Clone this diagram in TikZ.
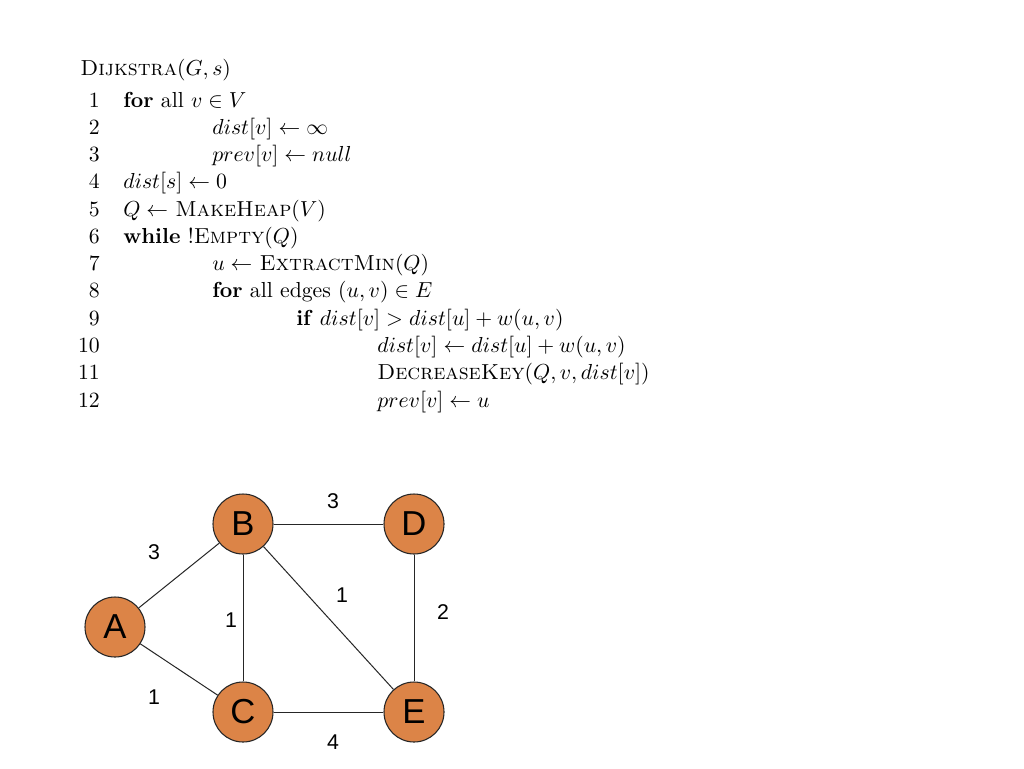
\documentclass[tikz,border=0pt]{standalone}
\usepackage{fontspec}
\newfontfamily\gfont{Liberation Sans}
\definecolor{vfill}{HTML}{DC8447}
\newcommand{\cl}[1]{\scalebox{1.63}{#1}}
\tikzset{
  code/.style={anchor=base west, inner sep=0pt},
  num/.style={anchor=base east, inner sep=0pt},
  vtx/.style={circle, draw=black!85, line width=0.8pt, fill=vfill, minimum size=45pt, inner sep=0pt, font=\gfont\fontsize{26}{26}\selectfont},
  wt/.style={inner sep=0pt, font=\gfont\fontsize{16}{16}\selectfont},
  edge/.style={draw=black!85, line width=0.75pt}
}
\begin{document}
\begin{tikzpicture}[x=0.75pt, y=-0.75pt]
\useasboundingbox (0,0) rectangle (1024,768);
\fill[white] (0,0) rectangle (1024,768);
% algorithm
\node[code] (t0) at (80,75) {\cl{\textsc{Dijkstra}$(G,s)$}};
\node[num] (n1) at (100,107) {\cl{1}};
\node[code] (l1) at (123,107) {\cl{\textbf{for} all $v\in V$}};
\node[num] (n2) at (100,134.3) {\cl{2}};
\node[code] (l2) at (212,134.3) {\cl{$dist[v]\leftarrow\infty$}};
\node[num] (n3) at (100,161.5) {\cl{3}};
\node[code] (l3) at (212,161.5) {\cl{$prev[v]\leftarrow null$}};
\node[num] (n4) at (100,188.8) {\cl{4}};
\node[code] (l4) at (123,188.8) {\cl{$dist[s]\leftarrow 0$}};
\node[num] (n5) at (100,216.1) {\cl{5}};
\node[code] (l5) at (123,216.1) {\cl{$Q\leftarrow$ \textsc{MakeHeap}$(V)$}};
\node[num] (n6) at (100,243.4) {\cl{6}};
\node[code] (l6) at (123,243.4) {\cl{\textbf{while} !\textsc{Empty}$(Q)$}};
\node[num] (n7) at (100,270.6) {\cl{7}};
\node[code] (l7) at (212,270.6) {\cl{$u\leftarrow$ \textsc{ExtractMin}$(Q)$}};
\node[num] (n8) at (100,297.9) {\cl{8}};
\node[code] (l8) at (212,297.9) {\cl{\textbf{for} all edges $(u,v)\in E$}};
\node[num] (n9) at (100,325.2) {\cl{9}};
\node[code] (l9) at (296,325.2) {\cl{\textbf{if} $dist[v]>dist[u]+w(u,v)$}};
\node[num] (n10) at (100,352.5) {\cl{10}};
\node[code] (l10) at (377,352.5) {\cl{$dist[v]\leftarrow dist[u]+w(u,v)$}};
\node[num] (n11) at (100,379.7) {\cl{11}};
\node[code] (l11) at (377,379.7) {\cl{\textsc{DecreaseKey}$(Q,v,dist[v])$}};
\node[num] (n12) at (100,407) {\cl{12}};
\node[code] (l12) at (377,407) {\cl{$prev[v]\leftarrow u$}};
% graph
\node[vtx] (A) at (115,627) {A};
\node[vtx] (B) at (243,524) {B};
\node[vtx] (C) at (243,712) {C};
\node[vtx] (D) at (414,524) {D};
\node[vtx] (E) at (414,712) {E};
\draw[edge] (A) -- (B);
\draw[edge] (A) -- (C);
\draw[edge] (B) -- (C);
\draw[edge] (B) -- (D);
\draw[edge] (B) -- (E);
\draw[edge] (D) -- (E);
\draw[edge] (C) -- (E);
\node[wt] (wBD) at (333,501) {3};
\node[wt] (wAB) at (154,552) {3};
\node[wt] (wBE) at (342,595) {1};
\node[wt] (wDE) at (443,612) {2};
\node[wt] (wBC) at (231,620) {1};
\node[wt] (wAC) at (154,697) {1};
\node[wt] (wCE) at (333,742) {4};
\end{tikzpicture}
\end{document}
